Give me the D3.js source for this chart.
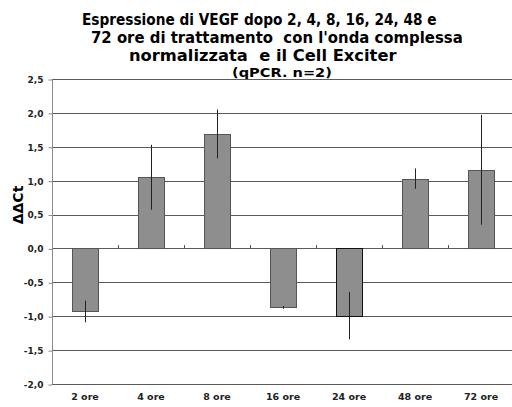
<!DOCTYPE html>
<html>
<head>
<meta charset="utf-8">
<script src="https://cdn.jsdelivr.net/npm/d3@7"></script>
<style>
  html, body { margin: 0; padding: 0; background: #fff; }
  svg { display: block; }
</style>
</head>
<body>
<svg id="chart" width="512" height="407"></svg>
<script>
// Time points and VEGF ΔΔCt means with error half-widths (qPCR, n=2)
const categories = ["2 ore", "4 ore", "8 ore", "16 ore", "24 ore", "48 ore", "72 ore"];
const values = [-0.93, 1.05, 1.69, -0.87, -0.99, 1.03, 1.16];
const errors = [0.16, 0.48, 0.36, 0.02, 0.35, 0.15, 0.81];
const yTicks = [2.5, 2.0, 1.5, 1.0, 0.5, 0.0, -0.5, -1.0, -1.5, -2.0];
const titleLines = [
  "Espressione di VEGF dopo 2, 4, 8, 16, 24, 48 e",
  "72 ore di trattamento\u00a0 con l'onda complessa",
  "normalizzata\u00a0 e il Cell Exciter",
  "(qPCR. n=2)"
];
const yLabel = "ΔΔCt";

const svg = d3.select("#chart");
const font = "'DejaVu Sans', Verdana, sans-serif";

const plot = { left: 52, right: 514, top: 79, bottom: 384 };

const x = d3.scaleBand()
  .domain(categories)
  .range([plot.left, plot.right])
  .paddingInner(0.6)
  .paddingOuter(0.3);
const band = d3.scaleBand().domain(categories).range([plot.left, plot.right]);

const y = d3.scaleLinear().domain([-2, 2.5]).range([plot.bottom, plot.top]);
const fmt = v => d3.format(".1f")(v).replace(".", ",").replace("−", "-");

// Title block: each line is measured, then fitted to its span [left, right]
const title = svg.append("g")
  .attr("font-family", font)
  .attr("font-weight", "bold")
  .attr("fill", "#000");
const titleBoxes = [
  { x0: 82, x1: 437, y: 25, size: 15.5 },
  { x0: 91, x1: 463, y: 43, size: 15.5 },
  { x0: 129, x1: 397, y: 61, size: 15.5 },
  { x0: 232, x1: 332, y: 77, size: 12.5 }
];
titleLines.forEach((t, i) => {
  const b = titleBoxes[i];
  const txt = title.append("text")
    .attr("x", 0)
    .attr("y", 0)
    .attr("font-size", b.size)
    .text(t);
  const bb = txt.node().getBBox();
  const sx = (b.x1 - b.x0) / bb.width;
  txt.attr("transform", `translate(${b.x0 - bb.x * sx},${b.y}) scale(${sx},1)`);
});

// Horizontal gridlines
svg.append("g")
  .selectAll("line")
  .data(yTicks)
  .join("line")
  .attr("x1", plot.left)
  .attr("x2", plot.right)
  .attr("y1", d => Math.round(y(d)) + 0.5)
  .attr("y2", d => Math.round(y(d)) + 0.5)
  .attr("stroke", "#5a5a5a")
  .attr("stroke-width", 1);

// Y axis
const yAxis = d3.axisLeft(y)
  .tickValues(yTicks)
  .tickSize(4)
  .tickPadding(5)
  .tickFormat(fmt);
const yG = svg.append("g")
  .attr("transform", `translate(${plot.left + 0.5},0.5)`)
  .call(yAxis);
yG.select(".domain").attr("stroke", "#8a8a8a").attr("d", `M0,${y(2.5)}V${y(-2)}`);
yG.selectAll(".tick line").attr("stroke", "#8a8a8a");
yG.selectAll(".tick text")
  .attr("font-family", font)
  .attr("font-weight", "bold")
  .attr("font-size", 9)
  .attr("fill", "#222");

// Bars
svg.append("g")
  .selectAll("rect")
  .data(categories)
  .join("rect")
  .attr("x", d => Math.round(x(d)) + 0.5)
  .attr("width", Math.round(x.bandwidth()))
  .attr("y", (d, i) => Math.round(y(Math.max(0, values[i]))) + 0.5)
  .attr("height", (d, i) => Math.abs(Math.round(y(values[i])) - Math.round(y(0))))
  .attr("fill", "#8e8e8e")
  .attr("stroke", (d, i) => i === 4 ? "#111" : "#555")
  .attr("stroke-width", 1);

// Category ticks on the zero line
svg.append("g")
  .selectAll("line")
  .data(categories.slice(1))
  .join("line")
  .attr("x1", d => Math.round(band(d)) + 0.5)
  .attr("x2", d => Math.round(band(d)) + 0.5)
  .attr("y1", Math.round(y(0)) + 0.5)
  .attr("y2", Math.round(y(0)) - 3)
  .attr("stroke", "#555");

// Error bars
svg.append("g")
  .selectAll("line")
  .data(categories)
  .join("line")
  .attr("x1", d => Math.round(x(d) + x.bandwidth() / 2) + 0.5)
  .attr("x2", d => Math.round(x(d) + x.bandwidth() / 2) + 0.5)
  .attr("y1", (d, i) => y(values[i] + errors[i]))
  .attr("y2", (d, i) => y(values[i] - errors[i]))
  .attr("stroke", "#222")
  .attr("stroke-width", 1);

// X category labels
svg.append("g")
  .selectAll("text")
  .data(categories)
  .join("text")
  .attr("x", d => band(d) + band.bandwidth() / 2)
  .attr("y", 400)
  .attr("text-anchor", "middle")
  .attr("font-family", font)
  .attr("font-weight", "bold")
  .attr("font-size", 9.5)
  .attr("fill", "#222")
  .text(d => d);

// Y axis title
svg.append("text")
  .attr("transform", "translate(23,205) rotate(-90)")
  .attr("text-anchor", "middle")
  .attr("font-family", font)
  .attr("font-weight", "bold")
  .attr("font-size", 14)
  .attr("fill", "#000")
  .text(yLabel);
</script>
</body>
</html>
